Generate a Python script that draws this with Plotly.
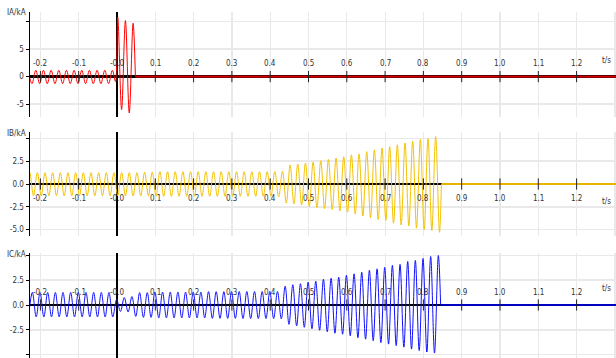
import numpy as np
import plotly.graph_objects as go

# ---------------- data ----------------
x_ticks = [-0.2, -0.1, 0.0, 0.1, 0.2, 0.3, 0.4, 0.5, 0.6, 0.7, 0.8, 0.9, 1.0, 1.1, 1.2]
x_tick_labels = ["-0.2", "-0.1", "-0.0", "0.1", "0.2", "0.3", "0.4", "0.5", "0.6",
                 "0.7", "0.8", "0.9", "1.0", "1.1", "1.2"]

# Phase A: extrema of the waveform (half-cycle grid 0.01 s before fault)
ia_pre_start = -0.232
ia_pre = [1.15, -1.28, 1.15, -1.28, 1.15, -1.28, 1.15, -1.28, 1.15, -1.28, 1.15, -1.28,
          1.15, -1.28, 1.15, -1.28, 1.15, -1.28, 1.15, -1.28, 1.15, -1.28, 1.15]
ia_fault_t = [-0.004, 0.002, 0.012, 0.022, 0.032, 0.042, 0.048]
ia_fault = [-0.9, 10.8, -6.0, 10.2, -6.6, 9.7, 0.0]
ia_tail_t = [0.048, 1.31]
ia_tail = [0.0, 0.0]

# Phase B
ib_start = -0.238
ib = [-1.3, 1.25, -1.3, 1.25, -1.3, 1.25, -1.3, 1.25, -1.3, 1.25, -1.3, 1.25,
      -1.3, 1.25, -1.3, 1.25, -1.3, 1.25, -1.3, 1.25, -1.3, 1.25, -1.3, 1.25,
      -1.3, 1.25, -1.3, 1.25, -1.3, 1.25, -1.3, 1.3, -1.3, 1.3,
      -1.35, 1.35, -1.35, 1.35, -1.35, 1.35, -1.35, 1.35, -1.35, 1.35, -1.35, 1.35,
      -1.35, 1.35, -1.35, 1.35, -1.35, 1.35, -1.35, 1.35, -1.35, 1.35, -1.35, 1.35,
      -1.35, 1.35, -1.35, 1.35, -1.35, 1.35, -1.35, 1.35, -1.4, 1.4,
      -2.1, 2.1, -2.2, 2.2, -2.3, 2.3, -2.45, 2.4, -2.6, 2.55, -2.7, 2.7,
      -2.8, 2.85, -2.95, 3.0, -3.1, 3.2, -3.3, 3.3, -3.5, 3.55, -3.7, 3.75,
      -3.9, 3.95, -4.0, 4.1, -4.3, 4.3, -4.5, 4.5, -4.6, 4.7, -4.85, 4.9,
      -5.0, 5.0, -5.1, 5.2, -5.3]
ib_end_t = [0.847, 1.31]
ib_tail = [0.0, 0.0]

# Phase C
ic_start = -0.231
ic = [-1.2, 1.27, -1.2, 1.27, -1.2, 1.27, -1.2, 1.27, -1.2, 1.27, -1.2, 1.27,
      -1.2, 1.27, -1.2, 1.27, -1.2, 1.27, -1.2, 1.27, -1.2, 1.27, -1.2,
      0.55, -0.65, 0.75, -0.7, 0.85, -1.15,
      1.25, -1.25, 1.25, -1.25, 1.3, -1.3, 1.3, -1.3, 1.3, -1.3, 1.3, -1.3,
      1.3, -1.3, 1.3, -1.3, 1.3, -1.3, 1.35, -1.35, 1.35, -1.35, 1.35, -1.35,
      1.35, -1.35, 1.37, -1.37, 1.37, -1.37, 1.37, -1.37, 1.37, -1.37, 1.37, -1.37,
      1.37, -1.4,
      1.9, -1.95, 2.05, -2.1, 2.15, -2.25, 2.3, -2.4, 2.4, -2.55, 2.6, -2.7,
      2.7, -2.85, 2.8, -2.95, 3.0, -3.1, 3.15, -3.3, 3.3, -3.45, 3.5, -3.6,
      3.65, -3.8, 3.8, -3.95, 4.0, -4.1, 4.1, -4.25, 4.4, -4.45, 4.5, -4.6,
      4.7, -4.75, 4.9, -4.85, 5.0]
ic_end_t = [0.845, 1.31]
ic_tail = [0.0, 0.0]

half_period = 0.01

# ---------------- figure ----------------
W, H = 616, 358
FONT = "Liberation Sans Narrow, DejaVu Sans Condensed, Arial Narrow, sans-serif"
TXT = "#333333"
GRID = "#e9e9e9"

def grid(start, n):
    return [round(start + half_period * k, 4) for k in range(n)]

ia_t = grid(ia_pre_start, len(ia_pre)) + ia_fault_t
ia_v = ia_pre + ia_fault
ib_t = grid(ib_start, len(ib)) + [ib_end_t[0]]
ib_v = ib + [0.0]
ic_t = grid(ic_start, len(ic)) + [ic_end_t[0]]
ic_v = ic + [0.0]

panels = [
    dict(t=ia_t, v=ia_v, tail_t=ia_tail_t, tail=ia_tail, color="#ff0000", tailcolor="#c80000",
         name="IA/kA", top=12, bottom=117, rng=[-7.35, 11.75],
         tv=[-5, 0, 5, 10], tt=["-5", "0", "5", ""], lab_shift=13, ts_shift=16),
    dict(t=ib_t, v=ib_v, tail_t=ib_end_t, tail=ib_tail, color="#f5c200", tailcolor="#e8b400",
         name="IB/kA", top=132, bottom=236, rng=[-5.71, 5.71],
         tv=[-5, -2.5, 0, 2.5, 5], tt=["-5.0", "-2.5", "0.0", "2.5", ""], lab_shift=-15, ts_shift=-18),
    dict(t=ic_t, v=ic_v, tail_t=ic_end_t, tail=ic_tail, color="#1010ff", tailcolor="#0000c0",
         name="IC/kA", top=253, bottom=358, rng=[-5.35, 5.25],
         tv=[-5, -2.5, 0, 2.5, 5], tt=["-5.0", "-2.5", "0.0", "2.5", ""], lab_shift=13, ts_shift=17),
]

x_left_px, t0_px, px_per_s = 30, 117, 383.0
x_range = [(x_left_px - t0_px) / px_per_s, (W - t0_px) / px_per_s]

fig = go.Figure()
annotations = []
layout = {}
for i, p in enumerate(panels, start=1):
    xa = "x" if i == 1 else f"x{i}"
    ya = "y" if i == 1 else f"y{i}"
    fig.add_trace(go.Scatter(x=p["t"], y=p["v"], mode="lines", xaxis=xa, yaxis=ya,
                             line=dict(color=p["color"], width=1, shape="spline", smoothing=1.0),
                             hoverinfo="skip", showlegend=False))
    fig.add_trace(go.Scatter(x=p["tail_t"], y=p["tail"], mode="lines", xaxis=xa, yaxis=ya,
                             line=dict(color=p["tailcolor"], width=2.2),
                             hoverinfo="skip", showlegend=False))
    fig.add_trace(go.Scatter(x=x_ticks, y=[0] * len(x_ticks), mode="markers", xaxis=xa, yaxis=ya,
                             marker=dict(symbol="line-ns", size=8,
                                         line=dict(color="#222222", width=1)),
                             hoverinfo="skip", showlegend=False))
    dom = [1 - p["bottom"] / H, 1 - p["top"] / H]
    layout["xaxis" if i == 1 else f"xaxis{i}"] = dict(
        domain=[x_left_px / W, 1], range=x_range, anchor=ya,
        showticklabels=False, ticks="", showgrid=True, gridcolor=GRID, gridwidth=1.2,
        tick0=0, dtick=0.1, zeroline=True, zerolinecolor="#000000", zerolinewidth=1.5,
        showline=False, fixedrange=True)
    layout["yaxis" if i == 1 else f"yaxis{i}"] = dict(
        domain=dom, range=p["rng"], anchor=xa,
        tickmode="array", tickvals=p["tv"], ticktext=p["tt"],
        ticks="outside", ticklen=3, tickcolor="#000000", tickwidth=1,
        tickfont=dict(family=FONT, size=8, color=TXT),
        showline=True, linecolor="#000000", linewidth=1.5,
        showgrid=True, gridcolor=GRID, gridwidth=1.5,
        zeroline=True, zerolinecolor="#000000", zerolinewidth=2.5, fixedrange=True)
    for tv, tl in zip(x_ticks, x_tick_labels):
        annotations.append(dict(x=tv, y=0, xref=xa, yref=ya, text=tl, showarrow=False,
                                yshift=p["lab_shift"], xanchor="center", yanchor="middle",
                                font=dict(family=FONT, size=8, color=TXT)))
    annotations.append(dict(x=613 / W, y=0, xref="paper", yref=ya, text="t/s", showarrow=False,
                            yshift=p["ts_shift"], xanchor="right", yanchor="middle",
                            font=dict(family=FONT, size=8, color=TXT)))
    annotations.append(dict(x=28 / W, y=1 - (p["top"] + 1) / H, xref="paper", yref="paper",
                            text=p["name"], showarrow=False, xanchor="right", yanchor="middle",
                            font=dict(family=FONT, size=8, color=TXT)))

fig.update_layout(width=W, height=H, margin=dict(l=0, r=0, t=0, b=0),
                  paper_bgcolor="white", plot_bgcolor="white",
                  annotations=annotations, **layout)
fig.write_html("out.html", config={"displayModeBar": False, "staticPlot": True},
               post_script="document.body.style.margin='0';document.body.style.overflow='hidden';")
